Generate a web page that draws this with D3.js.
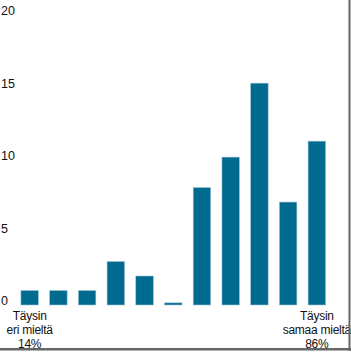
<!DOCTYPE html>
<html>
<head>
<meta charset="utf-8">
<script src="https://cdn.jsdelivr.net/npm/d3@7"></script>
<style>
  body { margin: 0; background: #fff; }
  text { font-family: "Liberation Sans", Arial, sans-serif; fill: #111; }
</style>
</head>
<body>
<div id="chart"></div>
<script>
// scale steps 0..10
const categories = ["0", "1", "2", "3", "4", "5", "6", "7", "8", "9", "10"]
const values = [1, 1, 1, 3, 2, 0.15, 8.1, 10.2, 15.3, 7.1, 11.3]
const y_ticks = [0, 5, 10, 15, 20]
const left_label = ["Täysin", "eri mieltä", "14%"]
const right_label = ["Täysin", "samaa mieltä", "86%"]

const width = 351
const height = 352
const bar_color = "#006a8f"

const svg = d3.select("#chart")
  .append("svg")
  .attr("width", width)
  .attr("height", height)

const x_scale = d3.scaleBand()
  .domain(categories)
  .range([15.3, 331.2])
  .paddingInner(0.39)
  .paddingOuter(0.195)

const y_scale = d3.scaleLinear()
  .domain([0, 20])
  .range([305, 15])

// Y tick labels (no axis line)
svg.append("g")
  .selectAll("text")
  .data(y_ticks)
  .join("text")
    .attr("x", 1)
    .attr("y", d => y_scale(d))
    .attr("font-size", 12.5)
    .text(d => d)

// Bars
svg.append("g")
  .selectAll("rect")
  .data(values)
  .join("rect")
    .attr("x", (d, i) => x_scale(categories[i]))
    .attr("y", d => y_scale(d))
    .attr("width", x_scale.bandwidth())
    .attr("height", d => y_scale(0) - y_scale(d))
    .attr("fill", bar_color)
    .attr("stroke", "#9cc6d6")
    .attr("stroke-width", 0.6)

// End labels
function end_label(lines, cat) {
  const cx = x_scale(cat) + x_scale.bandwidth() / 2
  svg.append("g")
    .selectAll("text")
    .data(lines)
    .join("text")
      .attr("x", cx)
      .attr("y", (d, i) => 320 + i * 14)
      .attr("text-anchor", "middle")
      .attr("font-size", 12)
      .attr("letter-spacing", -0.25)
      .text(d => d)
}
end_label(left_label, categories[0])
end_label(right_label, categories[categories.length - 1])

// frame shadow at right/bottom
svg.append("rect")
  .attr("x", 348.5).attr("y", 0)
  .attr("width", 2).attr("height", 351)
  .attr("fill", "#666")
svg.append("rect")
  .attr("x", 0).attr("y", 348)
  .attr("width", 351).attr("height", 2.5)
  .attr("fill", "#666")
</script>
</body>
</html>
